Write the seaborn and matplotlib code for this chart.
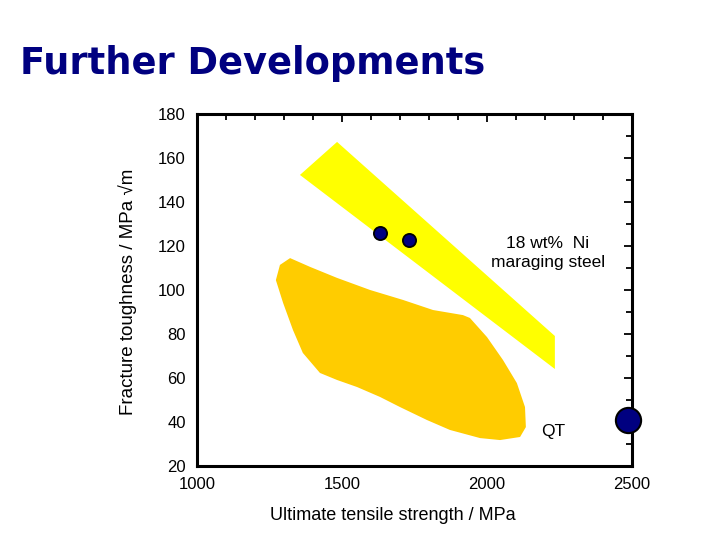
import seaborn as sns
from matplotlib import pyplot as plt
from matplotlib.ticker import MultipleLocator
import pandas as pd

# yellow band: 18 wt% Ni maraging steel
band_x = [1355, 1483, 2234, 2234]
band_y = [152.3, 167.3, 79.1, 64.1]

# orange blob: quenched & tempered steels
blob_x = [1321, 1390, 1483, 1597, 1710, 1814, 1917, 1941, 2000, 2055, 2103,
          2131, 2134, 2114, 2045, 1976, 1872, 1793, 1700, 1631, 1552, 1483,
          1424, 1365, 1331, 1297, 1272, 1286]
blob_y = [114.5, 110.5, 105.5, 100.0, 95.5, 90.9, 88.6, 87.3, 78.6, 68.2, 57.7,
          46.8, 37.7, 33.2, 31.8, 32.7, 36.4, 40.9, 46.8, 51.4, 55.9, 59.1,
          62.3, 71.4, 81.8, 94.1, 104.5, 111.4]

dot_x = [1631, 1731]
dot_y = [125.9, 122.7]
qt_x = [2486]
qt_y = [40.9]

sns.set_style("white")
plt.rcParams['font.family'] = ['Liberation Sans', 'DejaVu Sans']
plt.rcParams.update({"text.color": "black", "axes.labelcolor": "black",
                     "xtick.color": "black", "ytick.color": "black"})

fig = plt.figure(figsize=(7.2, 5.4), dpi=100)
ax = fig.add_axes([0.2736, 0.137, 0.6042, 0.6519])

ax.fill(blob_x, blob_y, color="#FFCC00", lw=0)
ax.fill(band_x, band_y, color="#FFFF00", lw=0)

dots = pd.DataFrame({"x": dot_x, "y": dot_y})
sns.scatterplot(data=dots, x="x", y="y", s=90, color="#000080",
                edgecolor="black", linewidth=1.3, ax=ax, zorder=5)
qt = pd.DataFrame({"x": qt_x, "y": qt_y})
sns.scatterplot(data=qt, x="x", y="y", s=330, color="#000080",
                edgecolor="black", linewidth=1.5, ax=ax, zorder=6, clip_on=False)

ax.text(2210, 116.8, "18 wt%  Ni\nmaraging steel", ha="center", va="center",
        fontsize=12.5, linespacing=1.3)
ax.text(2228, 35.9, "QT", ha="center", va="center", fontsize=12.5)

ax.set_xlim(1000, 2500)
ax.set_ylim(20, 180)
ax.xaxis.set_major_locator(MultipleLocator(500))
ax.xaxis.set_minor_locator(MultipleLocator(100))
ax.yaxis.set_major_locator(MultipleLocator(20))
ax.yaxis.set_minor_locator(MultipleLocator(10))
ax.tick_params(which="both", direction="in", top=True, right=True,
               labeltop=False, labelright=False, width=1.3, color="black")
ax.tick_params(which="major", length=6, labelsize=12, pad=8)
ax.tick_params(which="minor", length=4)
for sp in ax.spines.values():
    sp.set_linewidth(2.2)
    sp.set_color("black")
    sp.set_visible(True)

ax.set_xlabel("")
ax.set_ylabel("")
fig.text(0.545, 0.045, "Ultimate tensile strength / MPa", ha="center",
         va="center", fontsize=13)
fig.text(0.177, 0.46, "Fracture toughness / MPa \u221am", ha="center",
         va="center", rotation=90, fontsize=13.5)

fig.text(0.028, 0.883, "Further Developments", ha="left", va="center",
         fontsize=26.5, fontweight="bold", color="#000080",
         family=["DejaVu Sans"])

fig.savefig("out.png", dpi=100)
